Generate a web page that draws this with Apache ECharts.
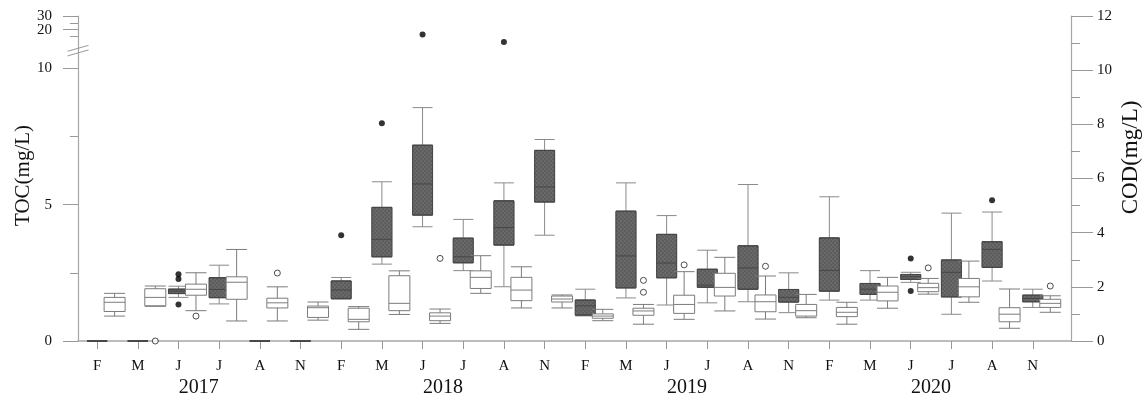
<!DOCTYPE html>
<html>
<head>
<meta charset="utf-8">
<script src="https://cdn.jsdelivr.net/npm/echarts@6/dist/echarts.min.js"></script>
<style>
  html, body { margin: 0; padding: 0; background: #fff; }
  #chart { width: 1146px; height: 398px; }
</style>
</head>
<body>
<div id="chart"></div>
<script>
// Sampling months and years along the time axis
const months = ['F', 'M', 'J', 'J', 'A', 'N'];
const years = ['2017', '2018', '2019', '2020'];

// TOC (mg/L) per sampling: [min, Q1, median, Q3, max]
const tocBoxes = [
  [0, 0, 0, 0, 0],
  [0, 0, 0, 0, 0],
  [1.60, 1.74, 1.83, 1.90, 2.01],
  [1.36, 1.59, 1.89, 2.32, 2.78],
  [0, 0, 0, 0, 0],
  [0, 0, 0, 0, 0],
  [1.53, 1.56, 1.87, 2.20, 2.33],
  [2.82, 3.09, 3.73, 4.90, 5.84],
  [4.19, 4.62, 5.76, 7.18, 8.56],
  [2.58, 2.87, 3.09, 3.77, 4.46],
  [1.99, 3.52, 4.16, 5.14, 5.80],
  [3.88, 5.10, 5.65, 6.99, 7.39],
  [0.92, 0.95, 1.29, 1.50, 1.90],
  [1.58, 1.95, 3.12, 4.76, 5.80],
  [1.32, 2.32, 2.86, 3.91, 4.60],
  [1.40, 1.97, 2.05, 2.63, 3.33],
  [1.44, 1.90, 2.68, 3.49, 5.74],
  [1.04, 1.43, 1.60, 1.89, 2.50],
  [1.50, 1.83, 2.59, 3.78, 5.29],
  [1.50, 1.71, 1.90, 2.11, 2.58],
  [2.15, 2.26, 2.36, 2.44, 2.52],
  [0.98, 1.62, 2.52, 2.97, 4.69],
  [2.20, 2.70, 3.36, 3.64, 4.73],
  [1.23, 1.44, 1.56, 1.68, 1.90]
];
// TOC outliers: [sampling index, value]
const tocOutliers = [
  [2, 2.45], [2, 2.27], [2, 1.34], [6, 3.88], [7, 7.99], [8, 16.4],
  [10, 13.5], [20, 3.03], [20, 1.83], [22, 5.16]
];

// COD (mg/L) per sampling: [min, Q1, median, Q3, max]
const codBoxes = [
  [0.92, 1.09, 1.43, 1.61, 1.76],
  [1.28, 1.30, 1.61, 1.93, 2.03],
  [1.12, 1.69, 1.91, 2.10, 2.52],
  [0.74, 1.54, 2.17, 2.37, 3.38],
  [0.74, 1.22, 1.41, 1.58, 2.00],
  [0.77, 0.87, 1.23, 1.29, 1.44],
  [0.43, 0.71, 0.80, 1.21, 1.27],
  [0.98, 1.12, 1.39, 2.41, 2.59],
  [0.65, 0.75, 0.92, 1.04, 1.18],
  [1.76, 1.94, 2.35, 2.59, 3.15],
  [1.22, 1.49, 1.88, 2.35, 2.74],
  [1.22, 1.44, 1.55, 1.66, 1.70],
  [0.75, 0.84, 0.92, 1.00, 1.17],
  [0.62, 0.95, 1.11, 1.21, 1.35],
  [0.80, 1.02, 1.35, 1.69, 2.56],
  [1.11, 1.66, 1.98, 2.50, 3.09],
  [0.81, 1.08, 1.45, 1.70, 2.40],
  [0.86, 0.92, 1.12, 1.35, 1.72],
  [0.62, 0.90, 1.06, 1.24, 1.43],
  [1.21, 1.48, 1.80, 2.03, 2.35],
  [1.73, 1.82, 1.97, 2.13, 2.31],
  [1.43, 1.63, 2.00, 2.31, 2.95],
  [0.47, 0.71, 0.99, 1.23, 1.92],
  [1.06, 1.24, 1.39, 1.54, 1.67]
];
// COD outliers: [sampling index, value]
const codOutliers = [
  [1, 0], [2, 0.92], [4, 2.51], [8, 3.05], [13, 2.24], [13, 1.80],
  [14, 2.81], [16, 2.76], [20, 2.70], [23, 2.03]
];

// Left axis tick labels (TOC) and minor ticks
const tocMajorTicks = [0, 5, 10, 20, 30];
const tocMinorTicks = [2.5, 7.5, 15, 25];

// ---- layout ----
const FONT = 'Liberation Serif';
const X_MIN = -0.47, X_MAX = 23.94;
const COD_SHIFT = 0.43;          // COD boxes sit just right of each month tick
const TOC_AXIS_MAX = 11.92;
const COD_AXIS_MAX = 12;

// TOC axis is linear up to the break, compressed above it
const tocKnots = [[0, 0], [10.4, 10.4], [13, 10.9], [15, 11.17], [20, 11.42], [30, 11.92]];
function tocToAxis(v) {
  for (let k = 1; k < tocKnots.length; k++) {
    const [v0, t0] = tocKnots[k - 1], [v1, t1] = tocKnots[k];
    if (v <= v1) return t0 + (v - v0) * (t1 - t0) / (v1 - v0);
  }
  return tocKnots[tocKnots.length - 1][1];
}
const BREAK_T = (tocToAxis(10.4) + tocToAxis(13)) / 2;

const slotIndex = [];
years.forEach((y, yi) => months.forEach((m, mi) => slotIndex.push(yi * 6 + mi)));
const yearCenters = years.map((y, yi) => yi * 6 + 2.5);

// major TOC ticks are split over two stacked axes so the close 20/30 labels both show
const tocMajorPos = tocMajorTicks.map(tocToAxis);
const tocMinorPos = tocMinorTicks.map(tocToAxis);
const tocMajorPosA = tocMajorPos.filter((p, k) => k % 2 === 0 || k < 3);
const tocMajorPosB = tocMajorPos.filter(p => tocMajorPosA.indexOf(p) < 0);
function tocLabel(t) {
  let best = 0;
  tocMajorPos.forEach((p, k) => { if (Math.abs(p - t) < Math.abs(tocMajorPos[best] - t)) best = k; });
  return String(tocMajorTicks[best]);
}

// checkered dark fill for TOC boxes
const tile = document.createElement('canvas');
tile.width = 4; tile.height = 4;
const tctx = tile.getContext('2d');
tctx.fillStyle = '#5d5d5d'; tctx.fillRect(0, 0, 4, 4);
tctx.fillStyle = '#696969'; tctx.fillRect(0, 0, 2, 2); tctx.fillRect(2, 2, 2, 2);

const axisGray = '#a6a6a6';
const textColor = '#111';

function hiddenX() {
  return { type: 'value', min: X_MIN, max: X_MAX, show: false, gridIndex: 0 };
}
function tocLabelAxis(pos) {
  return {
    type: 'value', min: 0, max: TOC_AXIS_MAX, position: 'left',
    axisLine: { show: false, onZero: false },
    axisTick: { show: true, customValues: pos, length: 15, lineStyle: { color: '#999' } },
    axisLabel: {
      customValues: pos, formatter: tocLabel, margin: 26,
      showMinLabel: true, showMaxLabel: true,
      fontFamily: FONT, fontSize: 15, color: textColor
    },
    splitLine: { show: false }
  };
}

const tocAxisMain = tocLabelAxis(tocMajorPosA);
tocAxisMain.axisLine = { show: true, onZero: false, lineStyle: { color: axisGray, width: 1.2 } };
tocAxisMain.name = 'TOC(mg/L)';
tocAxisMain.nameLocation = 'middle';
tocAxisMain.nameRotate = 90;
tocAxisMain.nameGap = 44;
tocAxisMain.nameMoveOverlap = false;
tocAxisMain.nameTextStyle = { fontFamily: FONT, fontSize: 21, color: textColor, padding: [0, 0, 0, 6] };

const option = {
  animation: false,
  backgroundColor: '#fff',
  grid: { left: 78, right: 75, top: 16, bottom: 57, containLabel: false, outerBoundsMode: 'none' },
  xAxis: [
    {
      type: 'value', min: X_MIN, max: X_MAX,
      axisLine: { onZero: false, lineStyle: { color: axisGray, width: 1.5 } },
      axisTick: { customValues: slotIndex, length: 8, lineStyle: { color: '#999' } },
      axisLabel: {
        customValues: slotIndex, formatter: v => months[Math.round(v) % 6],
        margin: 18, fontFamily: FONT, fontSize: 15, color: textColor
      },
      splitLine: { show: false }
    },
    {
      type: 'value', min: X_MIN, max: X_MAX, position: 'bottom',
      axisLine: { show: false, onZero: false }, axisTick: { show: false },
      axisLabel: {
        customValues: yearCenters, formatter: v => years[Math.floor(v / 6)],
        margin: 37, fontFamily: FONT, fontSize: 20, color: textColor
      },
      splitLine: { show: false }
    },
    hiddenX(),
    hiddenX()
  ],
  yAxis: [
    tocAxisMain,
    {
      type: 'value', min: 0, max: TOC_AXIS_MAX, position: 'left',
      axisLine: { show: false, onZero: false },
      axisTick: { show: true, customValues: tocMinorPos, length: 8, lineStyle: { color: '#999' } },
      axisLabel: { show: false },
      splitLine: { show: false }
    },
    {
      type: 'value', min: 0, max: COD_AXIS_MAX, interval: 2, position: 'right',
      axisLine: { show: true, onZero: false, lineStyle: { color: axisGray, width: 1.2 } },
      axisTick: { show: true, length: 22, lineStyle: { color: '#999' } },
      minorTick: { show: true, splitNumber: 2, length: 9, lineStyle: { color: '#999' } },
      axisLabel: { margin: 26, fontFamily: FONT, fontSize: 15, color: textColor },
      splitLine: { show: false }, minorSplitLine: { show: false },
      name: 'COD(mg/L)', nameLocation: 'middle', nameRotate: 90, nameGap: 48,
      nameMoveOverlap: false,
      nameTextStyle: { fontFamily: FONT, fontSize: 23, color: textColor, padding: [0, 0, 0, 42] }
    },
    tocLabelAxis(tocMajorPosB)
  ],
  series: [
    // TOC whiskers (light grey)
    {
      type: 'boxplot', xAxisIndex: 0, yAxisIndex: 0, z: 2,
      boxWidth: [20, 20],
      itemStyle: { color: 'rgba(0,0,0,0)', borderColor: '#8a8a8a', borderWidth: 1 },
      emphasis: { disabled: true },
      data: tocBoxes.map((b, i) => [i].concat(b.map(tocToAxis)))
    },
    // TOC boxes (dark, checkered)
    {
      type: 'boxplot', xAxisIndex: 2, yAxisIndex: 0, z: 3,
      boxWidth: [20, 20],
      itemStyle: { color: { image: tile, repeat: 'repeat' }, borderColor: '#464646', borderWidth: 1 },
      emphasis: { disabled: true },
      data: tocBoxes.map((b, i) => {
        const t = b.map(tocToAxis);
        return [i, t[1], t[1], t[2], t[3], t[3]];
      })
    },
    // COD boxes (white)
    {
      type: 'boxplot', xAxisIndex: 3, yAxisIndex: 2, z: 4,
      boxWidth: [21, 21],
      itemStyle: { color: '#fff', borderColor: '#7c7c7c', borderWidth: 1 },
      emphasis: { disabled: true },
      data: codBoxes.map((b, i) => [i + COD_SHIFT].concat(b))
    },
    // TOC outliers (filled)
    {
      type: 'scatter', xAxisIndex: 0, yAxisIndex: 0, z: 5,
      symbol: 'circle', symbolSize: 6,
      itemStyle: { color: '#000' },
      emphasis: { disabled: true },
      data: tocOutliers.map(([i, v]) => [i, tocToAxis(v)])
    },
    // COD outliers (open)
    {
      type: 'scatter', xAxisIndex: 3, yAxisIndex: 2, z: 5,
      symbol: 'circle', symbolSize: 6,
      itemStyle: { color: '#fff', borderColor: '#222', borderWidth: 1 },
      emphasis: { disabled: true },
      data: codOutliers.map(([i, v]) => [i + COD_SHIFT, v])
    }
  ]
};

const chart = echarts.init(document.getElementById('chart'), null, { renderer: 'canvas' });
chart.setOption(option);

// axis-break slashes on the TOC axis
const axisX = chart.convertToPixel({ xAxisIndex: 0 }, X_MIN);
const breakY = chart.convertToPixel({ yAxisIndex: 0 }, BREAK_T);
chart.setOption({
  graphic: [-2.3, 2.3].map(dy => ({
    type: 'line', z: 100,
    shape: { x1: axisX - 10.5, y1: breakY + dy + 3, x2: axisX + 10.5, y2: breakY + dy - 3 },
    style: { stroke: '#999', lineWidth: 1 }
  }))
});
</script>
</body>
</html>
